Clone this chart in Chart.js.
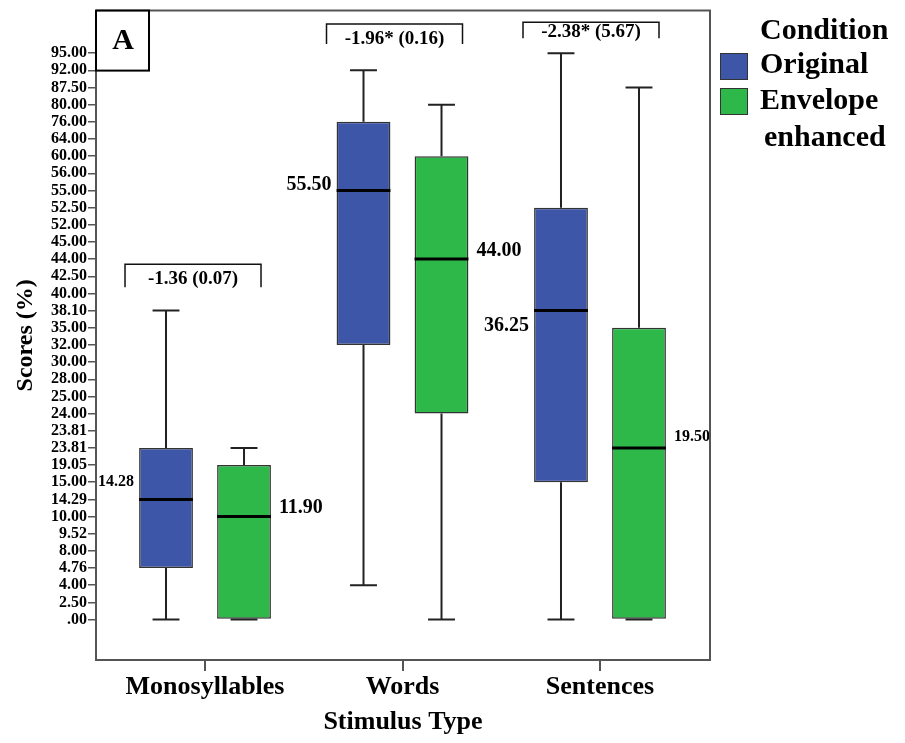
<!DOCTYPE html>
<html>
<head>
<meta charset="utf-8">
<script src="https://cdn.jsdelivr.net/npm/chart.js@4.4.0/dist/chart.umd.min.js"></script>
<style>
    html, body { margin: 0; padding: 0; background: #fff; }
</style>
</head>
<body>
<canvas id="grafico" width="905" height="743"></canvas>
<script>
// Categorias do eixo x
const categorias = ['Monosyllables', 'Words', 'Sentences'];

// Rótulos do eixo y (escala ordinal, cada rótulo com o mesmo espaçamento)
const rotulosY = ['.00', '2.50', '4.00', '4.76', '8.00', '9.52', '10.00', '14.29', '15.00',
    '19.05', '23.81', '23.81', '24.00', '25.00', '28.00', '30.00', '32.00', '35.00', '38.10',
    '40.00', '42.50', '44.00', '45.00', '52.00', '52.50', '55.00', '56.00', '60.00', '64.00',
    '76.00', '80.00', '87.50', '92.00', '95.00'];
const valoresY = rotulosY.map(r => parseFloat(r));

// Condição: Original
const origMin = [0, 4.00, 0];
const origQ1 = [4.76, 32.00, 15.00];
const origMediana = [14.29, 55.00, 38.10];
const origQ3 = [23.81, 76.00, 52.50];
const origMax = [38.10, 92.00, 95.00];

// Condição: Envelope enhanced
const envMin = [0, 0, 0];
const envQ1 = [0, 24.00, 0];
const envMediana = [10.00, 44.00, 23.81];
const envQ3 = [19.05, 60.00, 35.00];
const envMax = [23.81, 80.00, 87.50];

// Textos das medianas e das comparações
const textoMedianaOrig = ['14.28', '55.50', '36.25'];
const textoMedianaEnv = ['11.90', '44.00', '19.50'];
const textoComparacao = ['-1.36 (0.07)', '-1.96* (0.16)', '-2.38* (5.67)'];

const FONTE = '"Liberation Serif", "Times New Roman", serif';
const corAzul = '#3E56A8';
const corVerde = '#2EB84A';

// Posição ordinal de um valor no eixo y
function posY(v) {
    return valoresY.indexOf(v);
}

// Deslocamentos (px) dos textos das medianas em relação à linha da mediana
const ajusteOrig = [{ dy: -18, tam: 16 }, { dy: -6, tam: 20 }, { dy: 15, tam: 20 }];
const ajusteEnv = [{ dy: -9, tam: 20 }, { dy: -8, tam: 20 }, { dy: -11, tam: 16 }];

// Colchetes das comparações (topo em unidades do eixo y)
const colchetes = [
    { topo: 20.7, perna: 23, dx: -12, textoDy: 15 },
    { topo: 34.7, perna: 20, dx: -8, textoDy: 15 },
    { topo: 34.8, perna: 16, dx: -9, textoDy: 10 }
];

function montarDataset(nome, cor, q1, q3, min, med, max) {
    return {
        label: nome,
        data: categorias.map((c, i) => ({ x: i, y: [posY(q1[i]), posY(q3[i])] })),
        backgroundColor: cor,
        borderColor: '#333',
        borderWidth: 1.5,
        borderSkipped: false,
        categoryPercentage: 0.79,
        barPercentage: 0.69,
        caixa: { min: min, mediana: med, max: max }
    };
}

// Plugin: bigodes, medianas, textos, colchetes, moldura e legenda
const pluginBoxplot = {
    id: 'boxplot',
    afterDatasetsDraw(chart) {
        const ctx = chart.ctx;
        const y = chart.scales.y;
        chart.data.datasets.forEach((ds, d) => {
            const meta = chart.getDatasetMeta(d);
            meta.data.forEach((bar, i) => {
                const larg = bar.width;
                const topo = Math.min(bar.y, bar.base);
                const base = Math.max(bar.y, bar.base);
                const pMax = y.getPixelForValue(posY(ds.caixa.max[i]));
                const pMin = y.getPixelForValue(posY(ds.caixa.min[i]));
                const pMed = y.getPixelForValue(posY(ds.caixa.mediana[i]));
                ctx.save();
                ctx.strokeStyle = '#222';
                ctx.lineWidth = 2;
                ctx.beginPath();
                ctx.moveTo(bar.x, topo); ctx.lineTo(bar.x, pMax);
                ctx.moveTo(bar.x - larg / 4, pMax); ctx.lineTo(bar.x + larg / 4, pMax);
                ctx.moveTo(bar.x, base); ctx.lineTo(bar.x, pMin);
                ctx.moveTo(bar.x - larg / 4, pMin); ctx.lineTo(bar.x + larg / 4, pMin);
                ctx.stroke();
                ctx.strokeStyle = '#000';
                ctx.lineWidth = 3;
                ctx.beginPath();
                ctx.moveTo(bar.x - larg / 2, pMed); ctx.lineTo(bar.x + larg / 2, pMed);
                ctx.stroke();

                // texto da mediana
                const orig = d === 0;
                const aj = orig ? ajusteOrig[i] : ajusteEnv[i];
                ctx.fillStyle = '#000';
                ctx.font = 'bold ' + aj.tam + 'px ' + FONTE;
                ctx.textBaseline = 'middle';
                if (orig) {
                    ctx.textAlign = 'right';
                    ctx.fillText(textoMedianaOrig[i], bar.x - larg / 2 - 5, pMed + aj.dy);
                } else {
                    ctx.textAlign = 'left';
                    ctx.fillText(textoMedianaEnv[i], bar.x + larg / 2 + 8, pMed + aj.dy);
                }
                ctx.restore();
            });
        });
    },
    afterDraw(chart) {
        const ctx = chart.ctx;
        const area = chart.chartArea;
        const x = chart.scales.x;
        const y = chart.scales.y;

        // moldura (topo e direita)
        ctx.save();
        ctx.strokeStyle = '#555';
        ctx.lineWidth = 2;
        ctx.beginPath();
        ctx.moveTo(area.left, area.top); ctx.lineTo(area.right, area.top); ctx.lineTo(area.right, area.bottom);
        ctx.stroke();

        // colchetes das comparações
        colchetes.forEach((c, i) => {
            const cx = x.getPixelForValue(i) + c.dx;
            const ty = y.getPixelForValue(c.topo);
            ctx.strokeStyle = '#111';
            ctx.lineWidth = 1.5;
            ctx.beginPath();
            ctx.moveTo(cx - 68, ty + c.perna); ctx.lineTo(cx - 68, ty);
            ctx.lineTo(cx + 68, ty); ctx.lineTo(cx + 68, ty + c.perna);
            ctx.stroke();
            ctx.fillStyle = '#000';
            ctx.font = 'bold 19px ' + FONTE;
            ctx.textAlign = 'center';
            ctx.textBaseline = 'middle';
            ctx.fillText(textoComparacao[i], cx, ty + c.textoDy);
        });

        // caixa "A"
        ctx.fillStyle = '#fff';
        ctx.fillRect(area.left, area.top, 53, 60);
        ctx.strokeStyle = '#000';
        ctx.lineWidth = 2;
        ctx.strokeRect(area.left, area.top, 53, 60);
        ctx.fillStyle = '#000';
        ctx.font = 'bold 30px ' + FONTE;
        ctx.textAlign = 'center';
        ctx.textBaseline = 'middle';
        ctx.fillText('A', area.left + 27, area.top + 31);

        // legenda
        ctx.textAlign = 'left';
        ctx.font = 'bold 30px ' + FONTE;
        ctx.fillText('Condition', 760, 31);
        chart.data.datasets.forEach((ds, d) => {
            const yy = 53 + d * 35;
            ctx.fillStyle = ds.backgroundColor;
            ctx.fillRect(720, yy, 27, 26);
            ctx.strokeStyle = '#333';
            ctx.lineWidth = 1;
            ctx.strokeRect(720.5, yy + 0.5, 27, 26);
        });
        ctx.fillStyle = '#000';
        ctx.fillText('Original', 760, 65);
        ctx.fillText('Envelope', 760, 101);
        ctx.fillText('enhanced', 764, 138);
        ctx.restore();
    }
};

new Chart(document.getElementById('grafico'), {
    type: 'bar',
    data: {
        datasets: [
            montarDataset('Original', corAzul, origQ1, origQ3, origMin, origMediana, origMax),
            montarDataset('Envelope enhanced', corVerde, envQ1, envQ3, envMin, envMediana, envMax)
        ]
    },
    options: {
        responsive: false,
        animation: false,
        layout: { padding: { left: 0, top: 10, right: 195, bottom: 0 } },
        plugins: {
            legend: { display: false },
            tooltip: { enabled: false }
        },
        scales: {
            x: {
                type: 'linear',
                offset: false,
                min: -0.552,
                max: 2.557,
                afterBuildTicks: s => { s.ticks = categorias.map((c, i) => ({ value: i })); },
                afterFit: s => { s.height = 83; },
                ticks: {
                    callback: v => categorias[v],
                    color: '#000',
                    padding: 1,
                    font: { family: FONTE, size: 26, weight: 'bold' }
                },
                grid: { offset: false, drawOnChartArea: false, tickLength: 11, color: '#555', lineWidth: 2 },
                border: { color: '#555', width: 2 },
                title: {
                    display: true,
                    text: 'Stimulus Type',
                    color: '#000',
                    padding: { top: 0, bottom: 5 },
                    font: { family: FONTE, size: 26, weight: 'bold' }
                }
            },
            y: {
                type: 'linear',
                min: -2.357,
                max: 35.48,
                afterBuildTicks: s => { s.ticks = rotulosY.map((r, i) => ({ value: i })); },
                afterFit: s => { s.width = 96; },
                ticks: {
                    callback: v => rotulosY[v],
                    color: '#000',
                    padding: 1,
                    autoSkip: false,
                    font: { family: FONTE, size: 16, weight: 'bold' }
                },
                grid: { drawOnChartArea: false, tickLength: 8, color: '#555', lineWidth: 1.5 },
                border: { color: '#555', width: 2 },
                title: {
                    display: true,
                    text: 'Scores (%)',
                    color: '#000',
                    padding: { top: 11, bottom: 0 },
                    font: { family: FONTE, size: 24, weight: 'bold' }
                }
            }
        }
    },
    plugins: [pluginBoxplot]
});
</script>
</body>
</html>
